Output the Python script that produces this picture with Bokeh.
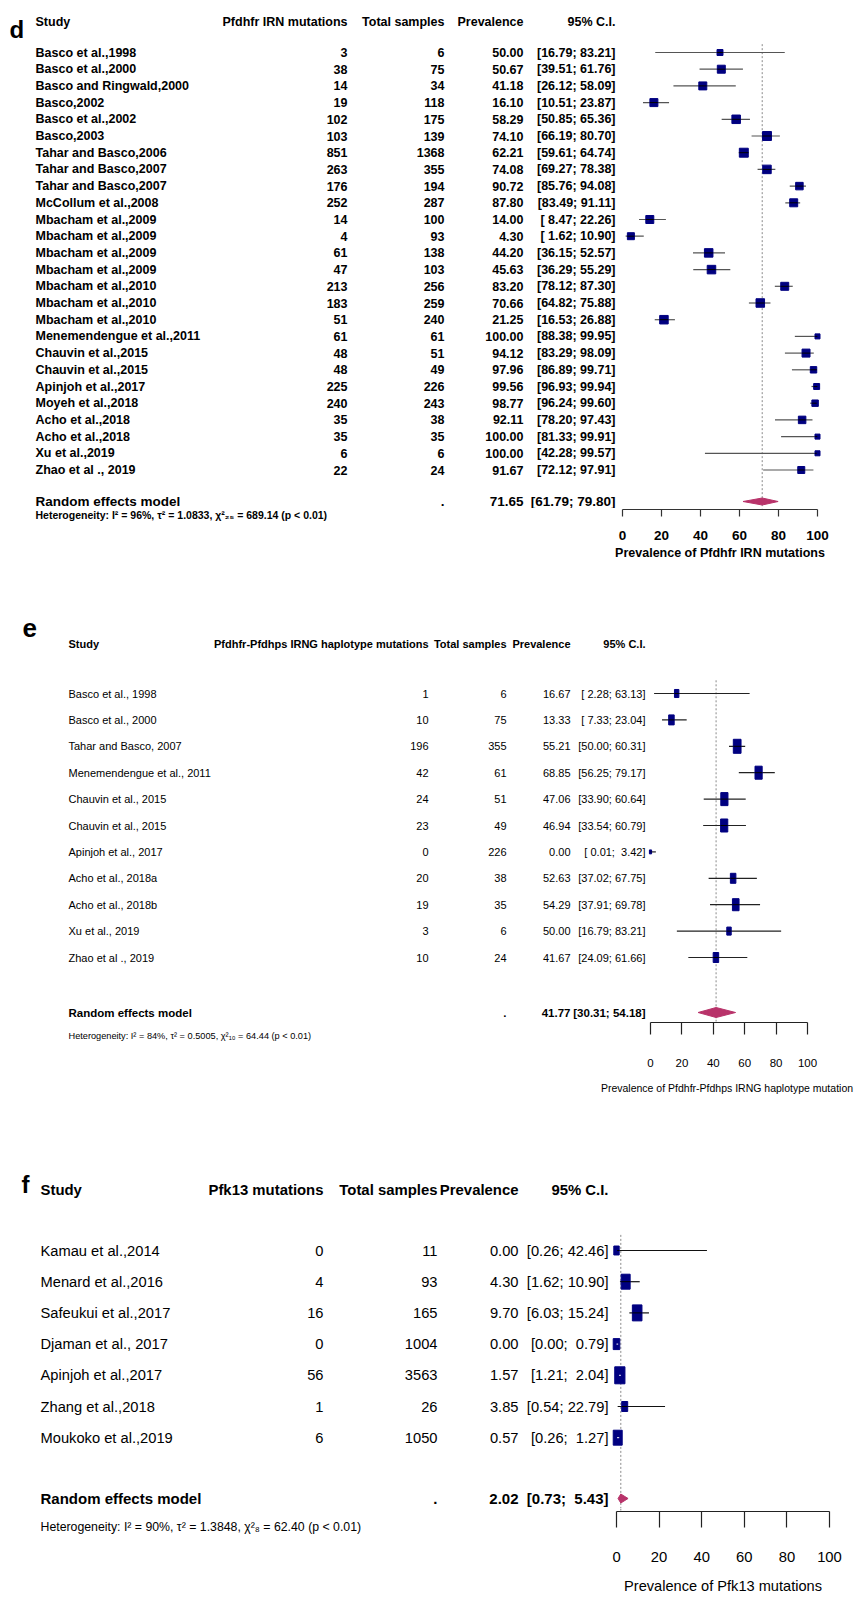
import math
from bokeh.plotting import figure
from bokeh.models import ColumnDataSource, LinearAxis, FixedTicker, Range1d, Title
from bokeh.layouts import column, row
from bokeh.embed import file_html
from bokeh.resources import INLINE
from bokeh.core.properties import value

# ---------------- data: panel d ----------------
studies_d = ["Basco et al.,1998", "Basco et al.,2000", "Basco and Ringwald,2000", "Basco,2002",
             "Basco et al.,2002", "Basco,2003", "Tahar and Basco,2006", "Tahar and Basco,2007",
             "Tahar and Basco,2007", "McCollum et al.,2008", "Mbacham et al.,2009", "Mbacham et al.,2009",
             "Mbacham et al.,2009", "Mbacham et al.,2009", "Mbacham et al.,2010", "Mbacham et al.,2010",
             "Mbacham et al.,2010", "Menemendengue et al.,2011", "Chauvin et al.,2015", "Chauvin et al.,2015",
             "Apinjoh et al.,2017", "Moyeh et al.,2018", "Acho et al.,2018", "Acho et al.,2018",
             "Xu et al.,2019", "Zhao et al ., 2019"]
events_d = [3, 38, 14, 19, 102, 103, 851, 263, 176, 252, 14, 4, 61, 47, 213, 183, 51, 61, 48, 48, 225, 240, 35, 35, 6, 22]
totals_d = [6, 75, 34, 118, 175, 139, 1368, 355, 194, 287, 100, 93, 138, 103, 256, 259, 240, 61, 51, 49, 226, 243, 38, 35, 6, 24]
prev_d = [50.00, 50.67, 41.18, 16.10, 58.29, 74.10, 62.21, 74.08, 90.72, 87.80, 14.00, 4.30, 44.20, 45.63,
          83.20, 70.66, 21.25, 100.00, 94.12, 97.96, 99.56, 98.77, 92.11, 100.00, 100.00, 91.67]
lo_d = [16.79, 39.51, 26.12, 10.51, 50.85, 66.19, 59.61, 69.27, 85.76, 83.49, 8.47, 1.62, 36.15, 36.29,
        78.12, 64.82, 16.53, 88.38, 83.29, 86.89, 96.93, 96.24, 78.20, 81.33, 42.28, 72.12]
hi_d = [83.21, 61.76, 58.09, 23.87, 65.36, 80.70, 64.74, 78.38, 94.08, 91.11, 22.26, 10.90, 52.57, 55.29,
        87.30, 75.88, 26.88, 99.95, 98.09, 99.71, 99.94, 99.60, 97.43, 99.91, 99.57, 97.91]
weights_d = [2.4, 4.3, 4.3, 4.3, 4.9, 5.4, 5.4, 4.9, 3.8, 4.3, 4.3, 3.3, 4.9, 4.9, 4.3, 4.9, 4.9,
             1.7, 4.3, 2.8, 2.4, 2.8, 3.8, 1.7, 1.7, 3.3]
pooled_d = [71.65, 61.79, 79.80]
het_d = "Heterogeneity: I\u00b2 = 96%, \u03c4\u00b2 = 1.0833, \u03c7\u00b2\u2082\u2085 = 689.14 (p < 0.01)"
headers_d = ["Study", "Pfdhfr IRN mutations", "Total samples", "Prevalence", "95% C.I."]
xlabel_d = "Prevalence of Pfdhfr IRN mutations"

# ---------------- data: panel e ----------------
studies_e = ["Basco et al., 1998", "Basco et al., 2000", "Tahar and Basco, 2007", "Menemendengue et al., 2011",
             "Chauvin et al., 2015", "Chauvin et al., 2015", "Apinjoh et al., 2017", "Acho et al., 2018a",
             "Acho et al., 2018b", "Xu et al., 2019", "Zhao et al .,  2019"]
events_e = [1, 10, 196, 42, 24, 23, 0, 20, 19, 3, 10]
totals_e = [6, 75, 355, 61, 51, 49, 226, 38, 35, 6, 24]
prev_e = [16.67, 13.33, 55.21, 68.85, 47.06, 46.94, 0.00, 52.63, 54.29, 50.00, 41.67]
lo_e = [2.28, 7.33, 50.00, 56.25, 33.90, 33.54, 0.01, 37.02, 37.91, 16.79, 24.09]
hi_e = [63.13, 23.04, 60.31, 79.17, 60.64, 60.79, 3.42, 67.75, 69.78, 83.21, 61.66]
weights_e = [5.0, 7.7, 15.2, 13.1, 13.1, 13.1, 1.2, 7.7, 11.2, 5.0, 7.7]
pooled_e = [41.77, 30.31, 54.18]
het_e = "Heterogeneity: I\u00b2 = 84%, \u03c4\u00b2 = 0.5005, \u03c7\u00b2\u2081\u2080 = 64.44 (p < 0.01)"
headers_e = ["Study", "Pfdhfr-Pfdhps IRNG haplotype mutations", "Total samples", "Prevalence", "95% C.I."]
xlabel_e = "Prevalence of Pfdhfr-Pfdhps IRNG haplotype mutation"

# ---------------- data: panel f ----------------
studies_f = ["Kamau et al.,2014", "Menard et al.,2016", "Safeukui et al.,2017", "Djaman et al., 2017",
             "Apinjoh et al.,2017", "Zhang et al.,2018", "Moukoko et al.,2019"]
events_f = [0, 4, 16, 0, 56, 1, 6]
totals_f = [11, 93, 165, 1004, 3563, 26, 1050]
prev_f = [0.00, 4.30, 9.70, 0.00, 1.57, 3.85, 0.57]
lo_f = [0.26, 1.62, 6.03, 0.00, 1.21, 0.54, 0.26]
hi_f = [42.46, 10.90, 15.24, 0.79, 2.04, 22.79, 1.27]
weights_f = [6.2, 17.3, 19.7, 9.3, 22.3, 7.7, 17.3]
pooled_f = [2.02, 0.73, 5.43]
het_f = "Heterogeneity: I\u00b2 = 90%, \u03c4\u00b2 = 1.3848, \u03c7\u00b2\u2088 = 62.40 (p < 0.01)"
headers_f = ["Study", "Pfk13 mutations", "Total samples", "Prevalence", "95% C.I."]
xlabel_f = "Prevalence of Pfk13 mutations"

ticks = [0, 20, 40, 60, 80, 100]

FONT = "Liberation Sans"
NBSP = "\u00a0"
PAGE_W = 855


def ci_texts(lo, hi, plo, phi):
    wl = max(len(f"{v:.2f}") for v in list(lo) + [plo])
    wh = max(len(f"{v:.2f}") for v in list(hi) + [phi])

    def one(a, b):
        return ("[" + f"{a:.2f}".rjust(wl) + "; " + f"{b:.2f}".rjust(wh) + "]").replace(" ", NBSP)
    return [one(a, b) for a, b in zip(lo, hi)], one(plo, phi)


def forest(study, events, totals, prev, lo, hi, weights, pooled, het, headers, xlabel, tag, L):
    T, S, A, B = L["top"], L["strip"], L["axis_y"], L["bottom"]
    split = L["split"]

    def X(px):
        return (px - L["x0"]) / L["ppu"]

    def Y(py):
        return -(py - L["row0"]) / L["dy"]

    def fig(x_lo, x_hi, y_top, y_frame_bottom, y_bottom):
        return figure(width=x_hi - x_lo, height=y_bottom - y_top,
                      x_range=Range1d(X(x_lo), X(x_hi)), y_range=Range1d(Y(y_frame_bottom), Y(y_top)),
                      x_axis_type=None, y_axis_type=None, toolbar_location=None, output_backend="svg",
                      min_border_left=0, min_border_right=0, min_border_top=0,
                      min_border_bottom=y_bottom - y_frame_bottom, outline_line_color=None)

    p = fig(0, PAGE_W, T, S, S)            # table + forest
    pl = fig(0, split, S, A, B)            # heterogeneity line (as a title below)
    pr = fig(split, PAGE_W, S, A, B)       # x axis

    n = len(study)
    rows = [-i for i in range(n)]
    est, plo, phi = pooled

    # reference line at pooled estimate (continues down to the axis)
    p.segment(x0=[est], x1=[est], y0=[0.5], y1=[Y(S)], line_color="#8a8a8a",
              line_dash="2 2", line_width=1)
    pr.segment(x0=[est], x1=[est], y0=[Y(S)], y1=[Y(A)], line_color="#8a8a8a",
               line_dash="2 2", line_width=1)
    # confidence intervals
    p.segment(x0=lo, x1=hi, y0=rows, y1=rows, line_color=L["ci_color"], line_width=1.2)
    # boxes (size from weights)
    hpx = [L["box_k"] * math.sqrt(w) for w in weights]
    wpx = [h * L["aspect"] for h in hpx]
    p.rect(x=prev, y=rows, width=wpx, height=hpx, width_units="screen", height_units="screen",
           fill_color="#000080", line_color="#000080", line_width=1)
    # CI part inside box
    ix0, ix1, iy, ic = [], [], [], []
    for i in range(n):
        half = wpx[i] / 2 / L["ppu"]
        a, b = max(lo[i], prev[i] - half), min(hi[i], prev[i] + half)
        if b > a:
            inside = lo[i] >= prev[i] - half and hi[i] <= prev[i] + half
            ix0.append(a); ix1.append(b); iy.append(rows[i])
            ic.append("white" if inside else "black")
    p.segment(x0=ix0, x1=ix1, y0=iy, y1=iy, line_color=ic, line_width=1)
    # pooled diamond
    yd = Y(L["re_y"])
    hh = L["diamond_h"] / 2 / L["dy"]
    p.patch(x=[plo, est, phi, est], y=[yd, yd + hh, yd, yd - hh], fill_color="#B8336A",
            line_color="#B8336A", line_width=1)

    # x axis
    ax = LinearAxis(bounds=(0, 100), ticker=FixedTicker(ticks=ticks), axis_label=xlabel,
                    axis_line_color=L["axis_color"], axis_line_width=1.2,
                    major_tick_line_color=L["axis_color"], major_tick_line_width=1.2,
                    major_tick_in=0, major_tick_out=L["tick_out"], minor_tick_line_color=None,
                    major_label_standoff=L["tick_standoff"],
                    major_label_text_font=FONT, major_label_text_font_size=f"{L['tick_size']}px",
                    major_label_text_font_style=L["tick_style"], major_label_text_color="black",
                    axis_label_text_font=FONT, axis_label_text_font_size=f"{L['xlabel_size']}px",
                    axis_label_text_font_style=L["tick_style"], axis_label_text_color="black",
                    axis_label_standoff=L["xlabel_standoff"])
    pr.add_layout(ax, "below")

    # heterogeneity statement, under the pooled row
    pl.add_layout(Title(text=het, align="left", offset=L["cols"][0], standoff=L["het_standoff"],
                        text_font=FONT, text_font_size=f"{L['het_size']}px",
                        text_font_style=L["het_style"], text_color="black"), "below")

    def texts(fg, xs, ys, ts, align, size, style="normal"):
        src = ColumnDataSource(dict(x=xs, y=ys, t=ts))
        fg.text(x="x", y="y", text="t", source=src, text_align=align, text_baseline="middle",
                text_font=value(FONT), text_font_size=f"{size}px", text_font_style=style,
                text_color="black")

    cx = L["cols"]
    ci, pci = ci_texts(lo, hi, plo, phi)
    yr = [Y(L["row0"] + i * L["dy"]) for i in range(n)]
    # panel tag
    texts(p, [X(L["tag_x"])], [Y(L["tag_y"])], [tag], "left", L["tag_size"], "bold")
    # headers
    hy = Y(L["head_y"])
    texts(p, [X(cx[0])], [hy], [headers[0]], "left", L["head_size"], "bold")
    texts(p, [X(c) for c in cx[1:]], [hy] * 4, headers[1:], "right", L["head_size"], "bold")
    # study rows
    rs, st = L["row_size"], L["row_style"]
    texts(p, [X(cx[0])] * n, yr, study, "left", rs, st)
    texts(p, [X(cx[1])] * n, yr, [str(v) for v in events], "right", rs, st)
    texts(p, [X(cx[2])] * n, yr, [str(v) for v in totals], "right", rs, st)
    texts(p, [X(cx[3])] * n, yr, [f"{v:.2f}" for v in prev], "right", rs, st)
    texts(p, [X(cx[4])] * n, yr, ci, "right", rs, st)
    # pooled row
    ry = Y(L["re_y"])
    texts(p, [X(cx[0])], [ry], ["Random effects model"], "left", L["re_size"], "bold")
    texts(p, [X(cx[2]), X(cx[3]), X(cx[4])], [ry] * 3, [".", f"{est:.2f}", pci], "right",
          L["re_size"], "bold")
    return column(p, row(pl, pr, spacing=0), spacing=0)


L_d = dict(top=0, strip=508, axis_y=509, bottom=575, split=584,
           x0=622, ppu=1.95, row0=52, dy=16.7,
           cols=[35, 347, 444, 523, 615], head_y=21, re_y=501,
           tag_x=9, tag_y=29, tag_size=24,
           row_size=12.5, row_style="bold", head_size=12.5, re_size=13.5,
           het_size=10.5, het_style="bold", het_standoff=-6,
           tick_size=13.5, tick_style="bold", xlabel_size=12.5, tick_out=7, tick_standoff=14,
           xlabel_standoff=3,
           axis_color="#333333", ci_color="#555555", box_k=3.85, aspect=1.0, diamond_h=7)

L_e = dict(top=575, strip=1019, axis_y=1022, bottom=1105, split=598,
           x0=650, ppu=1.57, row0=693, dy=26.4,
           cols=[68, 428, 506, 570, 645], head_y=643, re_y=1012,
           tag_x=22, tag_y=627, tag_size=26,
           row_size=11, row_style="normal", head_size=11, re_size=11.5,
           het_size=9.2, het_style="normal", het_standoff=13,
           tick_size=11.5, tick_style="normal", xlabel_size=10.5, tick_out=12, tick_standoff=24,
           xlabel_standoff=12,
           axis_color="#222222", ci_color="#222222", box_k=3.6, aspect=0.55, diamond_h=10)

L_f = dict(top=1105, strip=1508, axis_y=1511, bottom=1603, split=590,
           x0=616, ppu=2.13, row0=1250, dy=31.2,
           cols=[40, 323, 437, 518, 608], head_y=1189, re_y=1498,
           tag_x=21, tag_y=1184, tag_size=24,
           row_size=14.7, row_style="normal", head_size=14.9, re_size=15,
           het_size=12.3, het_style="normal", het_standoff=13,
           tick_size=14.8, tick_style="normal", xlabel_size=14.6, tick_out=16, tick_standoff=24,
           xlabel_standoff=13,
           axis_color="#222222", ci_color="#111111", box_k=3.6, aspect=0.6, diamond_h=9)

panel_d = forest(studies_d, events_d, totals_d, prev_d, lo_d, hi_d, weights_d, pooled_d, het_d,
                 headers_d, xlabel_d, "d", L_d)
panel_e = forest(studies_e, events_e, totals_e, prev_e, lo_e, hi_e, weights_e, pooled_e, het_e,
                 headers_e, xlabel_e, "e", L_e)
panel_f = forest(studies_f, events_f, totals_f, prev_f, lo_f, hi_f, weights_f, pooled_f, het_f,
                 headers_f, xlabel_f, "f", L_f)

layout = column(panel_d, panel_e, panel_f, spacing=0)
open("out.html", "w").write(file_html(layout, INLINE))
